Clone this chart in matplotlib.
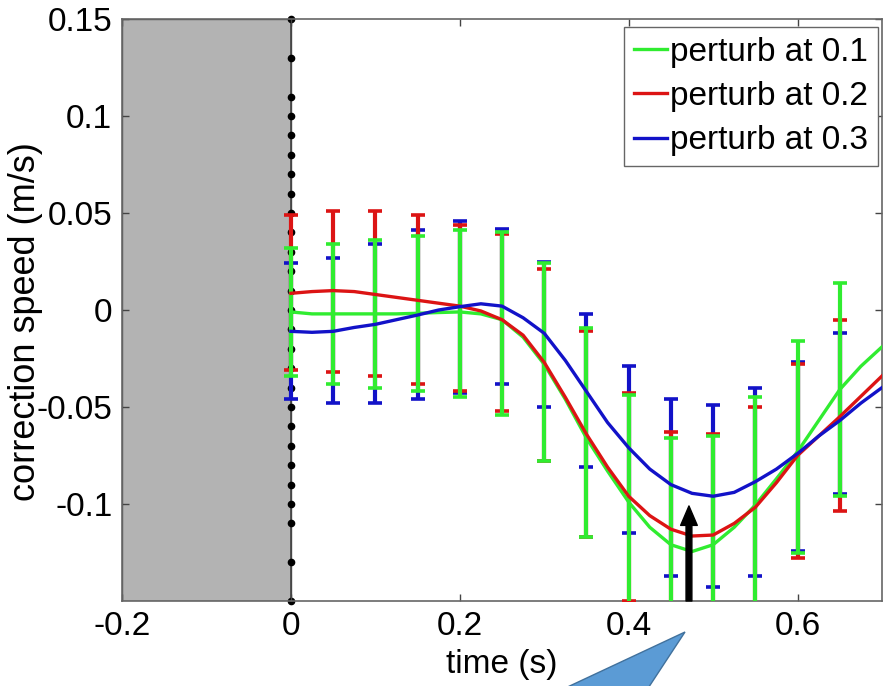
import matplotlib
matplotlib.use("Agg")
import matplotlib.pyplot as plt
from matplotlib.patches import Polygon
import numpy as np

plt.rcParams['font.family'] = ['Liberation Sans', 'DejaVu Sans']
plt.rcParams['axes.unicode_minus'] = False

# mean curves, read every 0.025 s
t_curve = [0.0, 0.025, 0.05, 0.075, 0.1, 0.125, 0.15, 0.175, 0.2, 0.225,
           0.25, 0.275, 0.3, 0.325, 0.35, 0.375, 0.4, 0.425, 0.45, 0.475,
           0.5, 0.525, 0.55, 0.575, 0.6, 0.625, 0.65, 0.675, 0.7]
green_curve = [-0.001, -0.002, -0.002, -0.002, -0.002, -0.002, -0.0017, -0.0013, -0.001, -0.002,
               -0.005, -0.014, -0.028, -0.046, -0.066, -0.083, -0.099, -0.112, -0.121, -0.1245,
               -0.121, -0.112, -0.1005, -0.087, -0.073, -0.057, -0.041, -0.029, -0.019]
red_curve = [0.0086, 0.0095, 0.010, 0.0095, 0.008, 0.0065, 0.005, 0.0035, 0.002, -0.0005,
             -0.005, -0.013, -0.027, -0.045, -0.064, -0.081, -0.096, -0.106, -0.1130, -0.1165,
             -0.116, -0.110, -0.1017, -0.089, -0.075, -0.065, -0.055, -0.0445, -0.034]
blue_curve = [-0.011, -0.0115, -0.011, -0.009, -0.0074, -0.005, -0.0026, 0.0, 0.0017, 0.0032,
              0.002, -0.004, -0.012, -0.026, -0.042, -0.058, -0.071, -0.082, -0.090, -0.0945,
              -0.0960, -0.094, -0.0885, -0.082, -0.074, -0.065, -0.057, -0.048, -0.040]

# error bar ends, every 0.05 s
t_err = [0.0, 0.05, 0.1, 0.15, 0.2, 0.25, 0.3, 0.35, 0.4, 0.45, 0.5, 0.55, 0.6, 0.65]
green_top = [0.032, 0.034, 0.036, 0.038, 0.041, 0.040, 0.024, -0.0094, -0.044, -0.066, -0.065, -0.045, -0.016, 0.014]
green_bot = [-0.034, -0.038, -0.040, -0.042, -0.045, -0.054, -0.078, -0.117, -0.154, -0.180, -0.177, -0.156, -0.1255, -0.096]
red_top = [0.049, 0.051, 0.051, 0.049, 0.044, 0.039, 0.021, -0.011, -0.043, -0.063, -0.064, -0.050, -0.028, -0.005]
red_bot = [-0.031, -0.032, -0.034, -0.038, -0.042, -0.052, -0.078, -0.117, -0.150, -0.164, -0.168, -0.153, -0.128, -0.1035]
blue_top = [0.024, 0.027, 0.034, 0.041, 0.046, 0.042, 0.025, -0.002, -0.029, -0.046, -0.049, -0.040, -0.027, -0.012]
blue_bot = [-0.046, -0.048, -0.048, -0.046, -0.043, -0.038, -0.050, -0.081, -0.115, -0.137, -0.143, -0.137, -0.124, -0.095]

labels = ['perturb at 0.1', 'perturb at 0.2', 'perturb at 0.3']
dot_y = [0.15, 0.13, 0.11, 0.10, 0.09, 0.08, 0.07, 0.06, 0.05, 0.04, 0.03, 0.02, 0.01, 0.0,
         -0.01, -0.02, -0.03, -0.04, -0.05, -0.06, -0.07, -0.08, -0.09, -0.10, -0.11, -0.13, -0.15]
arrow_t = 0.4714
arrow_y = -0.101

GREEN = '#30ec30'
RED = '#dc1414'
BLUE = '#1212c8'

fig = plt.figure(figsize=(8.86, 6.86), dpi=100)
ax = fig.add_axes([122 / 886, 1 - 601 / 686, 760 / 886, 582 / 686])

ax.axvspan(-0.2, 0, facecolor='#b3b3b3', edgecolor='#555555', lw=1.0, zorder=0)
ax.axvline(0, color='#444444', lw=1.2, zorder=1)
ax.plot([0] * len(dot_y), dot_y, 'o', color='black', ms=4.5, zorder=1, clip_on=False)


def bars(top, bot, color, z):
    top = np.array(top)
    bot = np.array(bot)
    ax.errorbar(t_err, (top + bot) / 2, yerr=(top - bot) / 2, fmt='none',
                ecolor=color, elinewidth=3.0, capsize=4.7, capthick=2.6, zorder=z)


bars(blue_top, blue_bot, BLUE, 2)
bars(red_top, red_bot, RED, 3)
bars(green_top, green_bot, GREEN, 4)

ax.plot(t_curve, green_curve, color=GREEN, lw=2.4, label=labels[0], zorder=5)
ax.plot(t_curve, red_curve, color=RED, lw=2.4, label=labels[1], zorder=5)
ax.plot(t_curve, blue_curve, color=BLUE, lw=2.4, label=labels[2], zorder=5)

ax.annotate('', xy=(arrow_t, arrow_y), xytext=(arrow_t, -0.15),
            arrowprops=dict(facecolor='black', edgecolor='black', width=4.2,
                            headwidth=12, headlength=14, shrink=0), zorder=6)

ax.set_xlim(-0.2, 0.7)
ax.set_ylim(-0.15, 0.15)
ax.set_xticks([-0.2, 0, 0.2, 0.4, 0.6])
ax.set_xticklabels(['-0.2', '0', '0.2', '0.4', '0.6'])
ax.set_yticks([-0.1, -0.05, 0, 0.05, 0.1, 0.15])
ax.set_yticklabels(['-0.1', '-0.05', '0', '0.05', '0.1', '0.15'])
ax.tick_params(direction='in', top=True, right=True, length=5, width=1,
               color='#444444', labelsize=24, pad=7)
for s in ax.spines.values():
    s.set_color('#666666')
    s.set_linewidth(1.2)

ax.set_xlabel('time (s)', fontsize=24, labelpad=5)
ax.set_ylabel('correction speed (m/s)', fontsize=26)
ax.yaxis.set_label_coords(-0.104, 0.48)

leg = ax.legend(loc='upper right', bbox_to_anchor=(0.995, 0.987), borderaxespad=0,
                fontsize=24, handlelength=1.0, handletextpad=0.1, labelspacing=0.4,
                borderpad=0.3, fancybox=False, framealpha=1)
leg.get_frame().set_edgecolor('#666666')
leg.get_frame().set_linewidth(1.0)

# blue callout pointer below the axis
tri = Polygon([(685 / 886, 1 - 632 / 686), (555 / 886, -0.01), (645 / 886, -0.01)],
              closed=True, transform=fig.transFigure, facecolor='#5b9bd5',
              edgecolor='#41719c', lw=1.0)
fig.patches.append(tri)

fig.savefig('out.png', dpi=100)
